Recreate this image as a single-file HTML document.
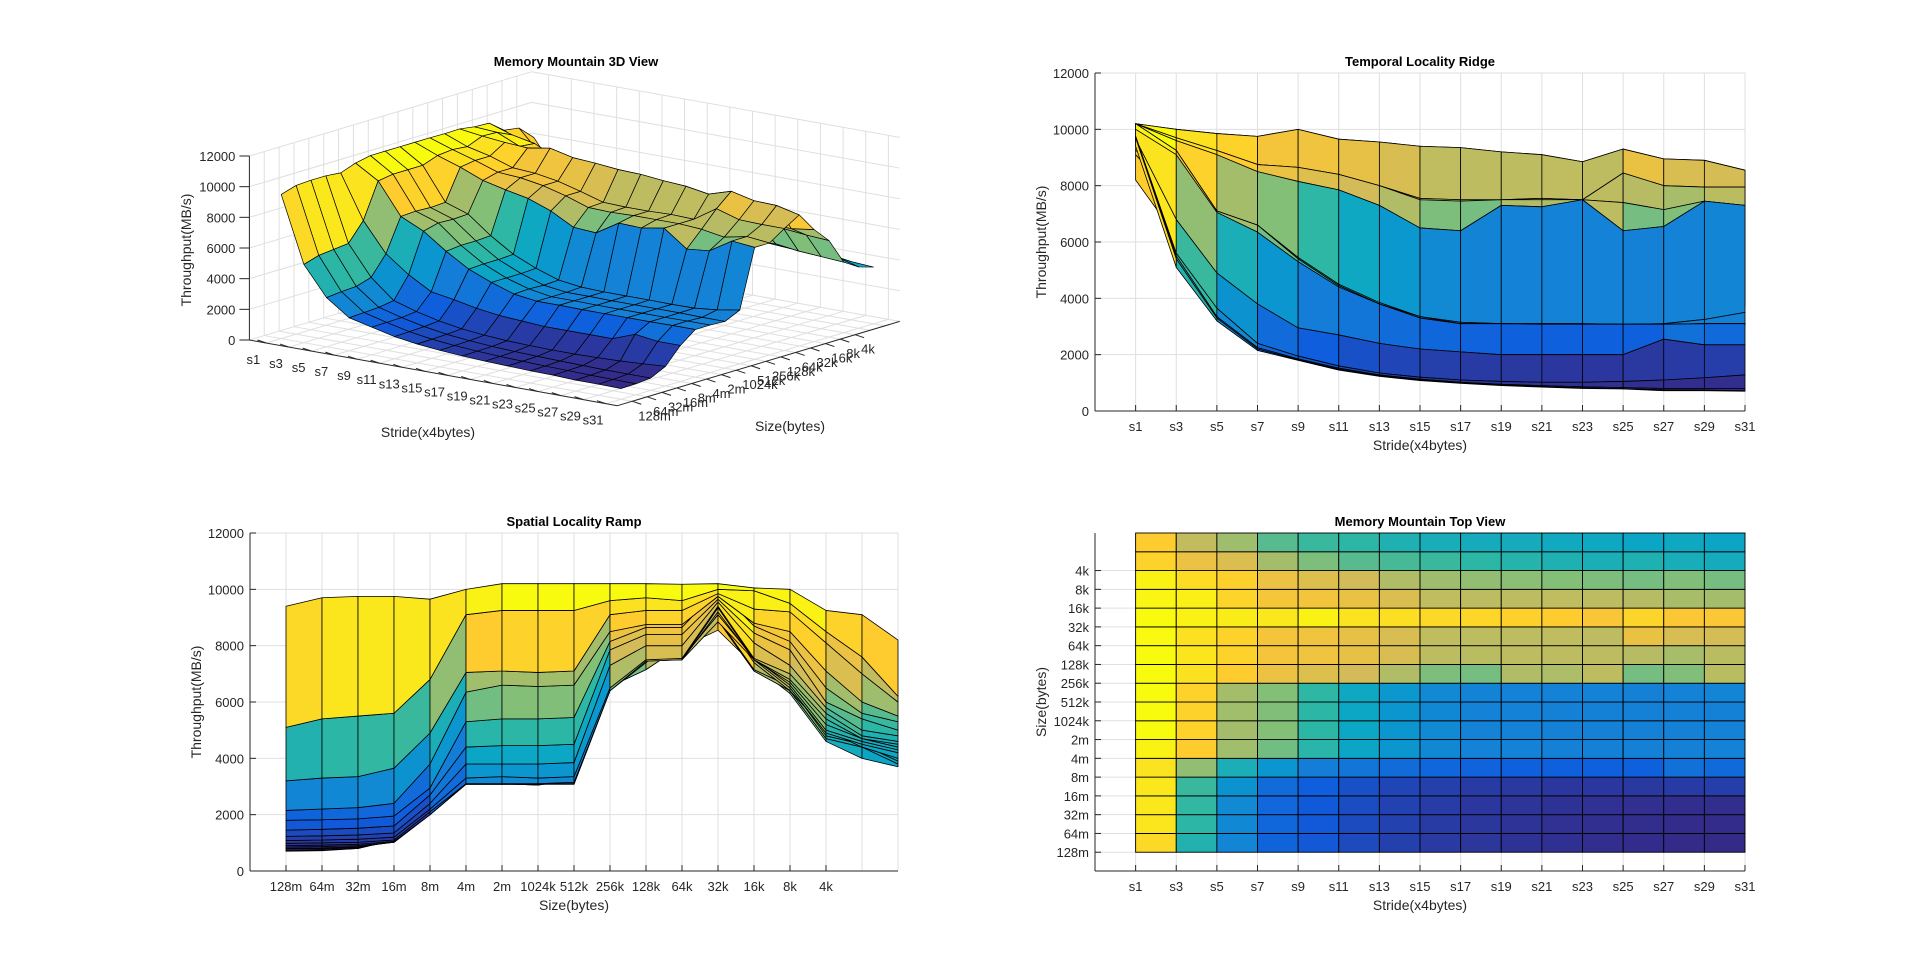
<!DOCTYPE html>
<html><head><meta charset="utf-8"><title>Memory Mountain</title>
<style>
html,body{margin:0;padding:0;background:#fff;}
svg{display:block;font-family:"Liberation Sans",Arial,sans-serif;}
</style></head>
<body>
<svg id="fig" width="1920" height="972" viewBox="0 0 1920 972" xmlns="http://www.w3.org/2000/svg">
<rect x="0" y="0" width="1920" height="972" fill="#ffffff"/>
<g id="p3d"></g>
<g id="ptemp"></g>
<g id="pspat"></g>
<g id="pheat"></g>
</svg>
<script>
const sizeLabels = ["128m","64m","32m","16m","8m","4m","2m","1024k","512k","256k","128k","64k","32k","16k","8k","4k","2k","1k"];
const strideLabels = ["s1","s3","s5","s7","s9","s11","s13","s15","s17","s19","s21","s23","s25","s27","s29","s31"];
const zTicks = [0,2000,4000,6000,8000,10000,12000];
const r128m = [9400,5100,3200,2150,1800,1450,1230,1080,980,900,850,800,780,720,720,700];
const r64m = [9700,5400,3300,2200,1820,1480,1250,1100,1000,920,870,820,790,750,740,720];
const r32m = [9750,5500,3350,2250,1850,1520,1280,1130,1020,950,900,860,830,800,800,800];
const r16m = [9750,5600,3650,2400,1950,1600,1350,1200,1100,1050,1020,1020,1050,1100,1180,1280];
const r8m = [9650,6800,4900,3800,2950,2700,2400,2200,2100,2000,2000,2000,2000,2550,2350,2350];
const r4m = [10000,9100,7050,6350,5300,4400,3800,3300,3100,3100,3080,3080,3080,3080,3100,3100];
const r2m = [10200,9250,7100,6600,5400,4450,3800,3350,3100,3100,3080,3080,3080,3080,3100,3100];
const r1024k = [10200,9250,7050,6550,5400,4450,3800,3300,3100,3100,3080,3080,3080,3080,3050,3050];
const r512k = [10200,9250,7100,6600,5450,4500,3850,3350,3150,3100,3100,3100,3080,3100,3250,3500];
const r256k = [10200,9600,9100,8500,8150,7850,7300,6500,6400,7300,7250,7500,6400,6550,7450,7300];
const r128k = [10200,9700,9250,8750,8650,8400,8000,7500,7450,7500,7500,7500,7400,7150,7450,7300];
const r64k = [10180,9600,9250,8750,8650,8400,8000,7550,7500,7500,7550,7500,8450,8000,7950,7950];
const r32k = [10200,10000,9850,9750,10000,9650,9550,9400,9350,9200,9100,8850,9300,8950,8900,8550];
const r16k = [10050,9950,9300,8800,8700,8450,8100,7550,7500,7500,7550,7500,7400,7150,7100,7300];
const r8k = [10000,9500,9200,8500,8150,7850,7300,7000,6800,6700,6600,6500,6400,6550,6400,6300];
const r4k = [9250,8500,8100,7100,6500,6000,5800,5600,5400,5200,5000,4900,5000,4800,4700,4600];
const r2k = [9100,7600,7000,6000,5600,5400,5000,4800,4700,4700,4600,4500,4400,4500,4400,4000];
const r1k = [8200,6200,6000,5500,5300,5000,4800,4600,4500,4400,4300,4200,4000,3900,3800,3700];
const Z = [r128m,r64m,r32m,r16m,r8m,r4m,r2m,r1024k,r512k,r256k,r128k,r64k,r32k,r16k,r8k,r4k,r2k,r1k];

const NS = "http://www.w3.org/2000/svg";
const NJ = Z.length, NK = Z[0].length;
let zmin = Infinity, zmax = -Infinity;
Z.forEach(r => r.forEach(v => { zmin = Math.min(zmin, v); zmax = Math.max(zmax, v); }));
const stops = ["#352a87","#0f5cdd","#1481d6","#06a4ca","#2eb7a4","#87bf77","#d1bb59","#fec832","#f9fb0e"].map(h => [parseInt(h.substr(1,2),16),parseInt(h.substr(3,2),16),parseInt(h.substr(5,2),16)]);
function parula(v){
  let t = (v - zmin) / (zmax - zmin); t = Math.max(0, Math.min(1, t));
  const p = t * (stops.length - 1), i = Math.min(Math.floor(p), stops.length - 2), f = p - i;
  const c = stops[i].map((a, n) => Math.round(a + (stops[i+1][n] - a) * f));
  return "rgb(" + c.join(",") + ")";
}
function mk(parent, tag, attrs){
  const e = document.createElementNS(NS, tag);
  for (const k in attrs) e.setAttribute(k, attrs[k]);
  parent.appendChild(e); return e;
}
function txt(parent, x, y, s, size, anchor, extra){
  const t = mk(parent, "text", Object.assign({x: x, y: y, "font-size": size, "text-anchor": anchor || "middle", fill: "#262626"}, extra || {}));
  t.textContent = s; return t;
}
const GRID = "#dfdfdf", AX = "#262626";

/* ---------- Temporal Locality Ridge ---------- */
(function(){
  const g = document.getElementById("ptemp");
  const L = 1095, R = 1745, T = 73, B = 411;
  const X = k => L + (k + 1) * (R - L) / 16;
  const Y = v => B - v / 12000 * (B - T);
  const grid = mk(g, "g", {});
  
  
  zTicks.forEach(v => mk(grid, "line", {x1: L, x2: R, y1: Y(v), y2: Y(v), stroke: GRID}));
  strideLabels.forEach((s, k) => mk(grid, "line", {x1: X(k), x2: X(k), y1: T, y2: B, stroke: GRID}));
  const surf = mk(g, "g", {});
  
  
  for (let j = NJ - 2; j >= 0; j--) for (let k = 0; k < NK - 1; k++) {
    const pts = [[X(k), Y(Z[j][k])], [X(k+1), Y(Z[j][k+1])], [X(k+1), Y(Z[j+1][k+1])], [X(k), Y(Z[j+1][k])]];
    const p = mk(surf, "polygon", {points: pts.map(q => q.join(",")).join(" "), fill: parula(Z[j][k]), stroke: "#000", "stroke-width": 0.8, "stroke-linejoin": "round"});
    
    
  }
  mk(g, "line", {x1: L, x2: L, y1: T, y2: B, stroke: AX});
  mk(g, "line", {x1: L, x2: R, y1: B, y2: B, stroke: AX});
  zTicks.forEach(v => {
    mk(g, "line", {x1: L, x2: L + 6, y1: Y(v), y2: Y(v), stroke: AX});
    const t = txt(g, L - 6, Y(v) + 5, String(v), 13, "end");
    
    
  });
  strideLabels.forEach((s, k) => {
    mk(g, "line", {x1: X(k), x2: X(k), y1: B, y2: B - 6, stroke: AX});
    const t = txt(g, X(k), B + 20, s, 13);
    
    
  });
  const ti = txt(g, (L + R) / 2, 66, "Temporal Locality Ridge", 13, "middle", {"font-weight": "bold", fill: "#000"});
  
  
  const xl = txt(g, (L + R) / 2, 450, "Stride(x4bytes)", 14);
  
  
  const yl = txt(g, 0, 0, "Throughput(MB/s)", 14, "middle", {transform: "translate(1046," + (T + B) / 2 + ") rotate(-90)"});
  
  
})();

/* ---------- Spatial Locality Ramp ---------- */
(function(){
  const g = document.getElementById("pspat");
  const L = 250, R = 898, T = 533, B = 871;
  const X = j => L + (j + 1) * (R - L) / 18;
  const Y = v => B - v / 12000 * (B - T);
  const grid = mk(g, "g", {});
  
  
  zTicks.forEach(v => mk(grid, "line", {x1: L, x2: R, y1: Y(v), y2: Y(v), stroke: GRID}));
  sizeLabels.forEach((s, j) => mk(grid, "line", {x1: X(j), x2: X(j), y1: T, y2: B, stroke: GRID}));
  const surf = mk(g, "g", {});
  
  
  for (let k = NK - 2; k >= 0; k--) for (let j = 0; j < NJ - 1; j++) {
    const pts = [[X(j), Y(Z[j][k])], [X(j+1), Y(Z[j+1][k])], [X(j+1), Y(Z[j+1][k+1])], [X(j), Y(Z[j][k+1])]];
    const p = mk(surf, "polygon", {points: pts.map(q => q.join(",")).join(" "), fill: parula(Z[j][k]), stroke: "#000", "stroke-width": 0.8, "stroke-linejoin": "round"});
    
    
  }
  mk(g, "line", {x1: L, x2: L, y1: T, y2: B, stroke: AX});
  mk(g, "line", {x1: L, x2: R, y1: B, y2: B, stroke: AX});
  zTicks.forEach(v => {
    mk(g, "line", {x1: L, x2: L + 6, y1: Y(v), y2: Y(v), stroke: AX});
    const t = txt(g, L - 6, Y(v) + 5, String(v), 13, "end");
    
    
  });
  sizeLabels.slice(0, 16).forEach((s, j) => {
    mk(g, "line", {x1: X(j), x2: X(j), y1: B, y2: B - 6, stroke: AX});
    const t = txt(g, X(j), B + 20, s, 13);
    
    
  });
  const ti = txt(g, (L + R) / 2, 526, "Spatial Locality Ramp", 13, "middle", {"font-weight": "bold", fill: "#000"});
  
  
  const xl = txt(g, (L + R) / 2, 910, "Size(bytes)", 14);
  
  
  const yl = txt(g, 0, 0, "Throughput(MB/s)", 14, "middle", {transform: "translate(201," + (T + B) / 2 + ") rotate(-90)"});
  
  
})();

/* ---------- Top View heatmap ---------- */
(function(){
  const g = document.getElementById("pheat");
  const L = 1095, R = 1745, T = 533, B = 871;
  const X = k => L + (k + 1) * (R - L) / 16;
  const Y = j => T + (17 - j) * (B - T) / 18;
  const grid = mk(g, "g", {});
  
  
  for (let j = 0; j < 16; j++) mk(grid, "line", {x1: L, x2: R, y1: Y(j), y2: Y(j), stroke: GRID});
  strideLabels.forEach((s, k) => mk(grid, "line", {x1: X(k), x2: X(k), y1: T, y2: B, stroke: GRID}));
  const cells = mk(g, "g", {});
  
  
  for (let j = 0; j < NJ - 1; j++) for (let k = 0; k < NK - 1; k++) {
    const r = mk(cells, "rect", {x: X(k), y: Y(j + 1), width: X(k+1) - X(k), height: Y(j) - Y(j+1), fill: parula(Z[j][k]), stroke: "#000", "stroke-width": 0.9});
    
    
  }
  mk(g, "line", {x1: L, x2: L, y1: T, y2: B, stroke: AX});
  mk(g, "line", {x1: L, x2: R, y1: B, y2: B, stroke: AX});
  sizeLabels.slice(0, 16).forEach((s, j) => {
    mk(g, "line", {x1: L, x2: L + 6, y1: Y(j), y2: Y(j), stroke: AX});
    const t = txt(g, L - 6, Y(j) + 5, s, 13, "end");
    
    
  });
  strideLabels.forEach((s, k) => {
    mk(g, "line", {x1: X(k), x2: X(k), y1: B, y2: B - 6, stroke: AX});
    const t = txt(g, X(k), B + 20, s, 13);
    
    
  });
  const ti = txt(g, (L + R) / 2, 526, "Memory Mountain Top View", 13, "middle", {"font-weight": "bold", fill: "#000"});
  
  
  const xl = txt(g, (L + R) / 2, 910, "Stride(x4bytes)", 14);
  
  
  const yl = txt(g, 0, 0, "Size(bytes)", 14, "middle", {transform: "translate(1046," + (T + B) / 2 + ") rotate(-90)"});
  
  
})();

/* ---------- 3D view ---------- */
(function(){
  const g = document.getElementById("p3d");
  const O = [249.4, 340], A = [368, 65.7], Bv = [282.3, -84.3], ZH = 184;
  const U = k => (k + 1 - 0.25) / 16.25;
  const V = j => (j + 1) / 19;
  const P = (u, v, z) => [O[0] + u * A[0] + v * Bv[0], O[1] + u * A[1] + v * Bv[1] - z / 12000 * ZH];
  const ln = (par, a, b, c) => mk(par, "line", {x1: a[0], y1: a[1], x2: b[0], y2: b[1], stroke: c || GRID});
  const grid = mk(g, "g", {});
  
  
  strideLabels.forEach((s, k) => { ln(grid, P(U(k), 0, 0), P(U(k), 1, 0)); ln(grid, P(U(k), 1, 0), P(U(k), 1, 12000)); });
  sizeLabels.forEach((s, j) => { ln(grid, P(0, V(j), 0), P(1, V(j), 0)); ln(grid, P(0, V(j), 0), P(0, V(j), 12000)); });
  zTicks.forEach(z => { ln(grid, P(0, 0, z), P(0, 1, z)); ln(grid, P(0, 1, z), P(1, 1, z)); });
  const quads = [];
  for (let j = 0; j < NJ - 1; j++) for (let k = 0; k < NK - 1; k++) {
    const c = P((U(k) + U(k+1)) / 2, (V(j) + V(j+1)) / 2, 0);
    quads.push({j, k, d: c[1]});
  }
  quads.sort((a, b) => a.d - b.d);
  const surf = mk(g, "g", {});
  
  
  quads.forEach(q => {
    const {j, k} = q;
    const pts = [P(U(k), V(j), Z[j][k]), P(U(k+1), V(j), Z[j][k+1]), P(U(k+1), V(j+1), Z[j+1][k+1]), P(U(k), V(j+1), Z[j+1][k])];
    const p = mk(surf, "polygon", {points: pts.map(a => a.join(",")).join(" "), fill: parula(Z[j][k]), stroke: "#000", "stroke-width": 0.7, "stroke-linejoin": "round"});
    
    
  });
  ln(g, P(0, 0, 0), P(1, 0, 0), AX);
  ln(g, P(1, 0, 0), P(1, 1, 0), AX);
  ln(g, P(0, 0, 0), P(0, 0, 12000), AX);
  zTicks.forEach(z => {
    const p = P(0, 0, z);
    ln(g, p, [p[0] - 10, p[1]], AX);
    const t = txt(g, p[0] - 14, p[1] + 5, String(z), 13, "end");
    
    
  });
  strideLabels.forEach((s, k) => {
    const p = P(U(k), 0, 0);
    ln(g, p, [p[0] - 9, p[1] - 3], AX);
    const t = txt(g, p[0] - 13, p[1] + 21, s, 13);
    
    
  });
  sizeLabels.slice(0, 16).forEach((s, j) => {
    const p = P(1, V(j), 0);
    ln(g, p, [p[0] + 9, p[1] + 3], AX);
    const t = txt(g, p[0] + 6, p[1] + 19, s, 13, "start");
    
    
  });
  const ti = txt(g, 576, 66, "Memory Mountain 3D View", 13, "middle", {"font-weight": "bold", fill: "#000"});
  
  
  const xl = txt(g, 428, 437, "Stride(x4bytes)", 14);
  
  
  const zl = txt(g, 790, 431, "Size(bytes)", 14);
  
  
  const yl = txt(g, 0, 0, "Throughput(MB/s)", 14, "middle", {transform: "translate(191,250) rotate(-90)"});
  
  
})();
</script>
</body></html>
